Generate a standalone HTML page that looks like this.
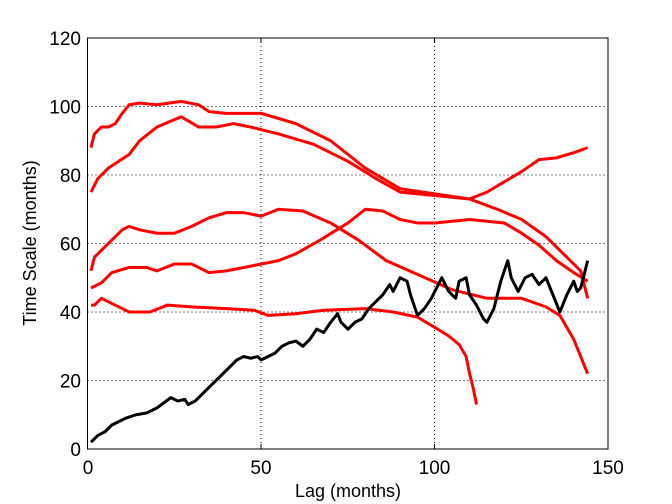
<!DOCTYPE html>
<html><head><style>body{margin:0;background:#fff}svg{display:block;font-family:"Liberation Sans",sans-serif}</style></head><body>
<svg width="672" height="504" viewBox="0 0 672 504">
<rect width="672" height="504" fill="#fff"/>
<g stroke="#000" stroke-width="1" stroke-dasharray="1,3">
<line x1="261" y1="38" x2="261" y2="449"/><line x1="434.5" y1="38" x2="434.5" y2="449"/>
<line x1="87.5" y1="380.5" x2="608" y2="380.5"/><line x1="87.5" y1="312" x2="608" y2="312"/>
<line x1="87.5" y1="243.5" x2="608" y2="243.5"/><line x1="87.5" y1="175" x2="608" y2="175"/>
<line x1="87.5" y1="106.5" x2="608" y2="106.5"/>
</g>
<g transform="translate(87.5,449) scale(3.4733,-3.425)" fill="none" stroke-linejoin="round">
<g stroke="#f00" stroke-width="3">
<polyline vector-effect="non-scaling-stroke" points="1,88 2,92 4,94 6,94 8,95 10,98 12,100.5 15,101 20,100.5 27,101.5 32,100.5 35,98.5 40,98 50,98 60,95 70,90 80,82 90,76 100,74.5 110,73 118,70 125,67 132,62 138,56 142,52 144,44"/>
<polyline vector-effect="non-scaling-stroke" points="1,75 3,79 6,82 9,84 12,86 15,90 20,94 27,97 32,94 37,94 42,95 47,94 55,92 65,89 75,84 83,79 90,75 100,74 110,73 115,75 120,78 125,81 130,84.5 135,85 140,86.5 144,88"/>
<polyline vector-effect="non-scaling-stroke" points="1,52 2,56 4,58 7,61 10,64 12,65 15,64 20,63 25,63 30,65 35,67.5 40,69 45,69 50,68 55,70 62,69.5 70,66 78,61 86,55 95,51 105,46.5 115,44 125,44 132,41.5 136,39 140,32 142,27 144,22"/>
<polyline vector-effect="non-scaling-stroke" points="1,47 4,48.5 7,51.5 12,53 17,53 20,52 25,54 30,54 35,51.5 40,52 45,53 50,54 55,55 60,57 67,61 75,66 80,70 85,69.5 90,67 95,66 100,66 105,66.5 110,67 115,66.5 120,66 125,63 130,59.5 135,55 140,51.5 144,49"/>
<polyline vector-effect="non-scaling-stroke" points="1,42 2,42 4,44 7,42.5 10,41 12,40 18,40 23,42 30,41.5 40,41 48,40.5 52,39 60,39.5 68,40.5 80,41 88,40 95,38.5 100,35.5 104,33 107,30.5 109,27 110,22 111,18 112,13"/>
</g>
<polyline stroke="#000" stroke-width="3" vector-effect="non-scaling-stroke" points="1,2 3,4 5,5 7,7 9,8 11,9 14,10 17,10.5 20,12 22,13.5 24,15 26,14 28,14.5 29,13 31,14 33,16 35,18 37,20 39,22 41,24 43,26 45,27 47,26.5 49,27 50,26 52,27 54,28 56,30 58,31 60,31.5 62,30 64,32 66,35 68,34 70,37 72,39.5 73,37 75,35 77,37 79,38 81,41 83,43 85,45 87,48 88,46 90,50 92,49 93,45 95,39 97,41 99,44 101,48 102,50 104,46 106,44 107,49 109,50 110,45 112,42 114,38 115,37 117,41 119,49 121,55 122,50 124,46 126,50 128,51 130,48 132,50 134,45 136,40 138,45 140,49 141,46 142,47 143,51 144,55"/>
</g>
<rect x="87.5" y="38" width="520.5" height="411" fill="none" stroke="#000" stroke-width="1"/>
<g stroke="#000"><line x1="261" y1="449" x2="261" y2="444"/><line x1="434.5" y1="449" x2="434.5" y2="444"/><line x1="261" y1="38" x2="261" y2="43"/><line x1="434.5" y1="38" x2="434.5" y2="43"/></g>
<g font-size="19" fill="#000">
<g text-anchor="middle"><text x="88" y="474">0</text><text x="261" y="474">50</text><text x="434.5" y="474">100</text><text x="608" y="474">150</text></g>
<g text-anchor="end"><text x="81" y="456">0</text><text x="81" y="387.5">20</text><text x="81" y="319">40</text><text x="81" y="250.5">60</text><text x="81" y="182">80</text><text x="81" y="113.5">100</text><text x="81" y="45">120</text></g>
<text x="348" y="497" text-anchor="middle" font-size="18">Lag (months)</text>
<text transform="translate(36,243) rotate(-90)" text-anchor="middle" font-size="18">Time Scale (months)</text>
</g>
</svg>
</body></html>
